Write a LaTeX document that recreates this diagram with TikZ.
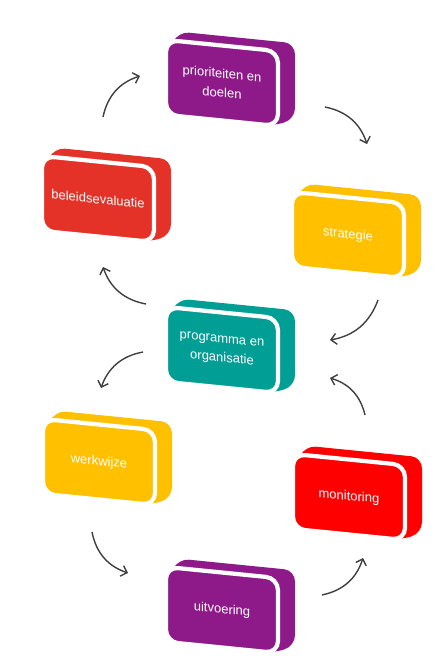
\documentclass[tikz,border=0pt]{standalone}
\usepackage{fontspec}
\setsansfont{Liberation Sans}
\usetikzlibrary{positioning, arrows.meta}
\definecolor{paars}{RGB}{142,26,138}
\definecolor{steenrood}{RGB}{228,50,40}
\definecolor{geel}{RGB}{255,192,0}
\definecolor{petrol}{RGB}{0,158,148}
\definecolor{felrood}{RGB}{255,0,0}

\begin{document}
\begin{tikzpicture}[x=0.02cm, y=-0.02cm,
  font=\sffamily\fontsize{7.4}{11}\selectfont,
  blok/.style={draw=white, line width=2.4pt, rounded corners=0.24cm,
               minimum width=2.24cm, minimum height=1.5cm, inner sep=2pt,
               text=white, align=center},
  achter/.style={rounded corners=0.22cm},
  pijl/.style={-{Straight Barb[length=1.1mm, width=2.2mm]}, line width=0.8pt, black!75},
]
  \useasboundingbox (0,0) rectangle (441,666);
  % blokken: achterkant eerst, dan de voorkant met witte rand
  \foreach \xn/\xx/\xy/\xkleur/\xtekst in {%
    prio/222/83/paars/{prioriteiten en\\doelen},%
    strat/348/235/geel/{strategie},%
    eval/98/199/steenrood/{beleidsevaluatie},%
    prog/222/350/petrol/{programma en\\organisatie},%
    werk/99/462/geel/{werkwijze},%
    mon/349/497/felrood/{monitoring},%
    uitv/222/610/paars/{uitvoering}%
  } {
    \begin{scope}[shift={(\xx,\xy)}, yslant=-0.1, transform shape]
      \fill[achter, \xkleur] (-56,-20) -- (-44,-47) -- (73,-47) -- (73,29)
        -- (50,38) -- (-56,38) -- cycle;
      \node[blok, fill=\xkleur] (\xn) at (0,0) {\xtekst};
    \end{scope}
  }
  % vrije eindpunten van de pijlen
  \foreach \xn/\xx/\xy in {%
    p1/103/117, p2/140/76, p3/325/107, p4/367/144,%
    p5/378/300, p6/330/340, p7/146/304, p8/103/267,%
    p9/143/352, p10/101/388, p11/92/532, p12/128/573,%
    p13/322/595, p14/363/558, p15/365/415, p16/330/378%
  } {
    \coordinate (\xn) at (\xx,\xy);
  }
  \foreach \xa/\xb/\xbuig in {%
    p1/p2/left, p3/p4/left, p5/p6/left, p7/p8/left,%
    p9/p10/right, p11/p12/right, p13/p14/right, p15/p16/right%
  } {
    \draw[pijl] (\xa) to[bend \xbuig=30] (\xb);
  }
\end{tikzpicture}
\end{document}
